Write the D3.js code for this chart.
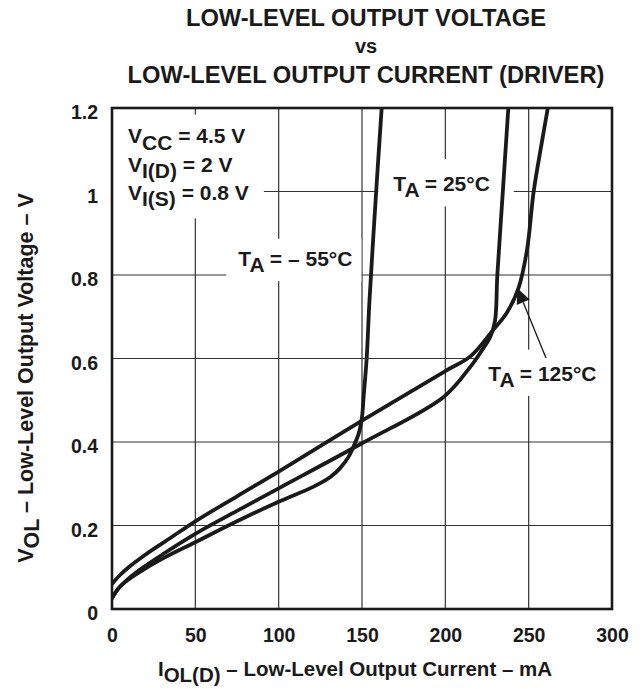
<!DOCTYPE html>
<html><head><meta charset="utf-8">
<script src="https://cdn.jsdelivr.net/npm/d3@7/dist/d3.min.js"></script>
<style>
body{margin:0;background:#fff}
svg{display:block}
text{font-family:"Liberation Sans",Arial,Helvetica,sans-serif;font-weight:bold;fill:#1a1a1a}
</style>
</head><body>
<svg id="chart" width="643" height="689"></svg>
<script>
// ---------- data ----------
const titleLines = ["LOW-LEVEL OUTPUT VOLTAGE", "vs", "LOW-LEVEL OUTPUT CURRENT (DRIVER)"];
const xTicks = [0, 50, 100, 150, 200, 250, 300];
const yTicks = [0, 0.2, 0.4, 0.6, 0.8, 1, 1.2];
const yTickLabels = ["0", "0.2", "0.4", "0.6", "0.8", "1", "1.2"];

// TA = -55 °C
const m55I = [0, 4, 8, 16, 30, 50, 75, 100, 121, 131, 137, 142, 145, 148, 150, 151, 152.8, 154.5, 158.5, 161.8];
const m55V = [0.026, 0.05, 0.065, 0.087, 0.12, 0.16, 0.21, 0.257, 0.293, 0.316, 0.338, 0.365, 0.39, 0.42, 0.46, 0.51, 0.6, 0.74, 1.0, 1.2];
// TA = 25 °C
const t25I = [0, 4, 8, 16, 30, 50, 75, 100, 150, 199, 215, 222, 227, 229.8, 231.2, 234.5, 237.8];
const t25V = [0.026, 0.05, 0.066, 0.092, 0.13, 0.18, 0.235, 0.289, 0.397, 0.508, 0.58, 0.62, 0.652, 0.69, 0.8, 1.0, 1.2];
// TA = 125 °C
const t125I = [0, 5, 10, 20, 35, 50, 75, 100, 150, 200, 215, 228, 237, 244, 249, 253, 258, 261.5];
const t125V = [0.06, 0.082, 0.1, 0.13, 0.17, 0.21, 0.27, 0.329, 0.451, 0.57, 0.605, 0.665, 0.71, 0.77, 0.86, 1.0, 1.12, 1.2];

// ---------- layout ----------
const plot = {left: 112, right: 612, top: 108, bottom: 609};
const svg = d3.select("#chart");
const x = d3.scaleLinear().domain([0, 300]).range([plot.left, plot.right]);
const y = d3.scaleLinear().domain([0, 1.2]).range([plot.bottom, plot.top]);
const ink = "#1a1a1a";

// title
const titleX = 366;
const titleBase = [26, 53, 83];
titleLines.forEach((t, i) => {
  svg.append("text").attr("x", titleX).attr("y", titleBase[i])
    .attr("text-anchor", "middle")
    .style("font-size", i === 1 ? "20px" : "23.7px")
    .text(t);
});

// grid
const grid = svg.append("g");
grid.selectAll("line.v").data(xTicks.slice(1, -1)).join("line")
  .attr("x1", d => x(d)).attr("x2", d => x(d))
  .attr("y1", plot.top).attr("y2", plot.bottom)
  .attr("stroke", "#333").attr("stroke-width", 1.2);
grid.selectAll("line.h").data(yTicks.slice(1, -1)).join("line")
  .attr("y1", d => y(d)).attr("y2", d => y(d))
  .attr("x1", plot.left).attr("x2", plot.right)
  .attr("stroke", "#333").attr("stroke-width", 1.2);

// axes (labels only)
const xAxis = d3.axisBottom(x).tickValues(xTicks).tickSize(0).tickPadding(19).tickFormat(d3.format("d"));
const gx = svg.append("g").attr("transform", `translate(0,${plot.bottom})`).call(xAxis);
gx.select(".domain").remove();
gx.selectAll("text").style("font-size", "19.5px").attr("fill", ink);

const yAxis = d3.axisLeft(y).tickValues(yTicks).tickSize(0).tickPadding(14).tickFormat((d, i) => yTickLabels[i]);
const gy = svg.append("g").attr("transform", `translate(${plot.left},0)`).call(yAxis);
gy.select(".domain").remove();
gy.selectAll("text").style("font-size", "19.5px").attr("fill", ink).attr("dy", "0.55em");

// labels with white backing boxes
const labelLayer = svg.append("g");
function addLabel(lines, ix, iv, lineGap, pad) {
  const g = labelLayer.append("g");
  const bg = g.append("rect").attr("fill", "#fff");
  const t = g.append("text").style("font-size", "21px");
  lines.forEach((parts, li) => {
    parts.forEach((p, pi) => {
      const ts = t.append("tspan").text(p.t);
      if (pi === 0) ts.attr("x", x(ix)).attr("y", y(iv) + li * lineGap);
      if (p.sub) ts.attr("dy", "0.3em");
      else if (pi > 0 && parts[pi - 1].sub) ts.attr("dy", "-0.3em");
    });
  });
  const b = t.node().getBBox();
  bg.attr("x", b.x - pad[0]).attr("y", b.y - pad[1])
    .attr("width", b.width + pad[0] + pad[2]).attr("height", b.height + pad[1] + pad[3]);
  return g;
}

// condition labels
addLabel([
  [{t: "V"}, {t: "CC", sub: true}, {t: " = 4.5 V"}],
  [{t: "V"}, {t: "I(D)", sub: true}, {t: " = 2 V"}],
  [{t: "V"}, {t: "I(S)", sub: true}, {t: " = 0.8 V"}]
], 9.6, 1.115, 28.3, [15, 10, 15, 8]);

addLabel([[{t: "T"}, {t: "A", sub: true}, {t: " = \u2013 55\u00B0C"}]], 75.8, 0.822, 0, [12, 8, 9, 5]);
addLabel([[{t: "T"}, {t: "A", sub: true}, {t: " = 25\u00B0C"}]], 168.8, 1.001, 0, [15, 13, 24, 5]);
addLabel([[{t: "T"}, {t: "A", sub: true}, {t: " = 125\u00B0C"}]], 225.8, 0.547, 0, [13, 12, 16, 5]);

// curves
svg.append("clipPath").attr("id", "pc").append("rect")
  .attr("x", plot.left).attr("y", plot.top)
  .attr("width", plot.right - plot.left).attr("height", plot.bottom - plot.top);
const line = d3.line().x(d => x(d[0])).y(d => y(d[1])).curve(d3.curveCatmullRom.alpha(0.5));
const series = [d3.zip(m55I, m55V), d3.zip(t25I, t25V), d3.zip(t125I, t125V)];
svg.append("g").attr("clip-path", "url(#pc)")
  .selectAll("path").data(series).join("path")
  .attr("d", line).attr("fill", "none")
  .attr("stroke", ink).attr("stroke-width", 3.8)
  .attr("stroke-linejoin", "round").attr("stroke-linecap", "round");

// arrow for 125 °C label
const arrowFrom = [260.4, 0.601], arrowTip = [243.3, 0.768];
const ax0 = x(arrowFrom[0]), ay0 = y(arrowFrom[1]), ax1 = x(arrowTip[0]), ay1 = y(arrowTip[1]);
const ang = Math.atan2(ay1 - ay0, ax1 - ax0);
const hl = 15, hw = 7;
const bx = ax1 - hl * Math.cos(ang), by = ay1 - hl * Math.sin(ang);
svg.append("line").attr("x1", ax0).attr("y1", ay0).attr("x2", bx).attr("y2", by)
  .attr("stroke", ink).attr("stroke-width", 1.3);
svg.append("path")
  .attr("d", `M${ax1},${ay1}L${bx + hw * Math.sin(ang)},${by - hw * Math.cos(ang)}L${bx - hw * Math.sin(ang)},${by + hw * Math.cos(ang)}Z`)
  .attr("fill", ink);

// frame
svg.append("rect").attr("x", plot.left).attr("y", plot.top)
  .attr("width", plot.right - plot.left).attr("height", plot.bottom - plot.top)
  .attr("fill", "none").attr("stroke", ink).attr("stroke-width", 2.6);

// axis titles
const xt = svg.append("text").attr("x", 355).attr("y", 676).attr("text-anchor", "middle").style("font-size", "20.5px");
xt.append("tspan").text("I");
xt.append("tspan").text("OL(D)").attr("dy", "0.3em");
xt.append("tspan").text(" \u2013 Low-Level Output Current \u2013 mA").attr("dy", "-0.3em");

const yt = svg.append("text").attr("transform", `translate(33,378) rotate(-90)`)
  .attr("text-anchor", "middle").style("font-size", "21.5px");
yt.append("tspan").text("V");
yt.append("tspan").text("OL").attr("dy", "0.3em");
yt.append("tspan").text(" \u2013 Low-Level Output Voltage \u2013 V").attr("dy", "-0.3em");
</script>
</body></html>
